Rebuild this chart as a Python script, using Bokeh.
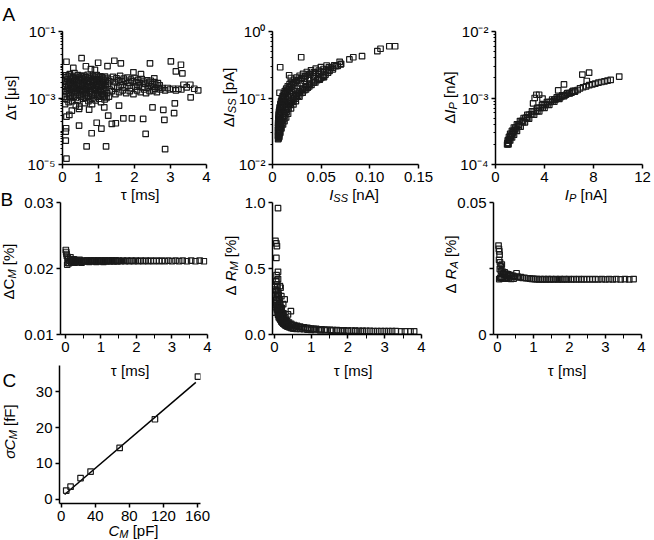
import math
from bokeh.plotting import figure
from bokeh.models import FixedTicker, CustomJSTickFormatter, Label, Range1d
from bokeh.layouts import row, column
from bokeh.embed import file_html
from bokeh.resources import INLINE

# ---------------- data ----------------
# Panel A1: delta tau [us] vs tau [ms]
a1_band_tau = [0.05,0.06,0.04, 0.08,0.09,0.07, 0.10,0.11,0.12, 0.13,0.14,0.12, 0.15,0.16,0.17, 0.18,0.19,0.17,
               0.20,0.21,0.22, 0.23,0.24,0.22, 0.25,0.26,0.27, 0.28,0.29,0.27, 0.30,0.31,0.32, 0.33,0.34,0.32,
               0.35,0.36,0.37, 0.38,0.39,0.37, 0.40,0.41,0.42, 0.43,0.44,0.42, 0.45,0.46,0.47, 0.48,0.49,0.47,
               0.50,0.51,0.52, 0.53,0.54,0.52, 0.55,0.56,0.57, 0.58,0.59,0.57, 0.60,0.61,0.62, 0.63,0.64,0.62,
               0.65,0.66,0.67, 0.68,0.69,0.67, 0.70,0.71,0.72, 0.73,0.74,0.72, 0.75,0.76,0.77, 0.78,0.79,0.77,
               0.80,0.81,0.82, 0.83,0.84,0.82, 0.85,0.86,0.87, 0.88,0.89,0.87, 0.90,0.91,0.92, 0.93,0.94,0.92,
               0.95,0.96,0.97, 0.98,0.99,0.97, 1.00,1.01,1.02, 1.03,1.04,1.02, 1.05,1.06,1.07, 1.08,1.09,1.07,
               1.10,1.11,1.12, 1.13,1.14,1.12, 1.15,1.16,1.17, 1.18,1.19,1.17, 1.20,1.21,1.22, 1.25,1.26,1.24,
               1.30,1.31,1.29,
               1.35,1.37, 1.40,1.42, 1.45,1.47, 1.50,1.52, 1.55,1.57, 1.60,1.62, 1.65,1.67, 1.70,1.72, 1.75,1.77,
               1.80,1.82, 1.85,1.87, 1.90,1.92, 1.95,1.97, 2.00,2.02, 2.05,2.07, 2.10,2.12, 2.15,2.17, 2.20,2.22,
               2.25,2.27, 2.30,2.32, 2.35,2.37, 2.40,2.42, 2.45,2.47, 2.50,2.52, 2.55,2.57, 2.60,2.62, 2.65,2.67,
               2.70,2.72,
               2.78, 2.85, 2.92, 2.98, 3.07, 3.15, 3.22, 3.30, 3.36, 3.45, 3.55, 3.66, 3.77]
a1_band_dtau = [4.2e-3,2.2e-3,1.1e-3, 3.1e-3,1.6e-3,6.5e-4, 4.8e-3,2.6e-3,1.3e-3, 3.6e-3,1.9e-3,9.0e-4,
                4.4e-3,2.3e-3,1.4e-3, 3.0e-3,1.7e-3,7.5e-4, 5.2e-3,2.8e-3,1.2e-3, 3.8e-3,2.0e-3,1.0e-3,
                4.6e-3,2.4e-3,1.5e-3, 3.3e-3,1.8e-3,8.0e-4, 4.0e-3,2.6e-3,1.1e-3, 5.6e-3,2.1e-3,1.3e-3,
                3.5e-3,1.6e-3,6.0e-4, 4.3e-3,2.5e-3,1.0e-3, 3.2e-3,1.9e-3,1.4e-3, 4.9e-3,2.2e-3,8.5e-4,
                3.7e-3,2.7e-3,1.2e-3, 4.1e-3,1.7e-3,5.5e-4, 3.4e-3,2.3e-3,1.1e-3, 4.5e-3,2.0e-3,1.5e-3,
                3.9e-3,2.6e-3,9.5e-4, 3.0e-3,1.8e-3,1.3e-3, 4.7e-3,2.4e-3,7.0e-4, 3.6e-3,2.1e-3,1.2e-3,
                4.2e-3,1.6e-3,1.0e-3, 3.3e-3,2.8e-3,1.4e-3, 5.0e-3,2.2e-3,8.0e-4, 3.8e-3,1.9e-3,1.1e-3,
                4.4e-3,2.5e-3,1.5e-3, 3.1e-3,1.7e-3,9.0e-4, 4.0e-3,2.3e-3,1.3e-3, 3.5e-3,2.0e-3,6.5e-4,
                4.6e-3,2.7e-3,1.2e-3, 3.2e-3,1.8e-3,1.0e-3, 4.3e-3,2.4e-3,1.4e-3, 3.7e-3,2.1e-3,8.5e-4,
                4.9e-3,2.6e-3,1.1e-3, 3.4e-3,1.6e-3,1.3e-3, 4.1e-3,2.2e-3,9.5e-4, 3.6e-3,2.5e-3,1.2e-3,
                4.5e-3,1.9e-3,1.5e-3, 3.0e-3,2.3e-3,7.5e-4, 4.2e-3,2.0e-3,1.1e-3, 3.8e-3,2.6e-3,1.3e-3,
                3.3e-3,1.7e-3,9.0e-4, 4.4e-3,2.4e-3,1.2e-3, 3.5e-3,2.1e-3,1.0e-3, 4.0e-3,2.7e-3,1.4e-3,
                3.2e-3,1.8e-3,1.1e-3,
                3.6e-3,1.6e-3, 4.3e-3,2.2e-3, 3.0e-3,1.3e-3, 3.9e-3,2.0e-3, 3.4e-3,1.5e-3, 4.6e-3,2.4e-3,
                3.1e-3,1.7e-3, 3.8e-3,2.1e-3, 3.3e-3,1.4e-3, 4.1e-3,2.3e-3, 2.9e-3,1.6e-3, 3.6e-3,2.0e-3,
                3.2e-3,1.3e-3, 4.0e-3,2.2e-3, 3.0e-3,1.7e-3, 3.5e-3,2.4e-3, 2.8e-3,1.5e-3, 3.7e-3,2.1e-3,
                3.1e-3,1.8e-3, 2.7e-3,1.4e-3, 3.4e-3,2.0e-3, 2.9e-3,1.6e-3, 3.3e-3,2.2e-3, 2.6e-3,1.7e-3,
                3.0e-3,1.9e-3, 2.5e-3,1.5e-3, 2.8e-3,2.0e-3, 2.4e-3,1.8e-3,
                2.0e-3, 1.7e-3, 2.0e-3, 1.8e-3, 1.9e-3, 1.7e-3, 1.9e-3, 1.8e-3, 2.5e-3, 2.1e-3, 2.5e-3, 1.9e-3, 1.7e-3]
a1_out_tau = [0.11,0.53,0.79,0.99,1.25,1.44,1.62,2.43,3.01,3.15,3.29,3.33,2.18,2.55,1.97,0.30,0.65,0.90,
              0.11,0.09,0.09,0.10,0.11,0.19,0.46,0.67,0.81,0.95,1.08,1.21,1.27,1.37,1.48,1.69,1.93,2.24,
              2.31,2.85,2.83,2.50,2.80,3.10,3.12,3.56,1.57,0.74,0.46,0.26,1.16]
a1_out_dtau = [1.23e-2,1.58e-2,7.4e-3,1.15e-2,9.1e-3,1.32e-2,1.1e-2,1.1e-2,1.26e-2,6.3e-3,1.0e-2,5.5e-3,
               5.2e-3,3.9e-3,5.9e-3,8.0e-3,9.0e-3,7.0e-3,
               1.5e-5,5.2e-5,9.8e-5,1.23e-4,2.75e-4,3.1e-4,1.48e-4,3.5e-5,8.7e-5,1.8e-4,1.2e-4,3.5e-5,
               2.95e-4,1.66e-4,1.74e-4,2.45e-4,2.45e-4,2.34e-4,8.3e-5,2.9e-5,2.2e-4,5.2e-4,4.4e-4,
               3.5e-4,6.9e-4,1.05e-3,5.9e-4,4.5e-4,4.7e-4,4.2e-4,5.2e-4]

# Panel A2: delta I_SS [pA] vs I_SS [nA]
a2_iss = [.0058,.0058,.0058,.0058,.0060,.0064,.0068,.0074,.0082,.0090,.0098,.0108,.0120,.0135,.0154,.0175,
          .0198,.0220,.0250,.0300,.0340,.0390,.0440,.0497,.0550,.0600,.0650,.0700,
          .0060,.0061,.0062,.0064,.0067,.0071,.0076,.0083,.0091,.0100,.0110,.0122,.0136,.0152,.0170,.0190,
          .0212,.0236,.0265,.0298,.0335,.0378,.0425,.0475,.0525,.0580,.0635,
          .0056,.0057,.0059,.0061,.0063,.0066,.0070,.0075,.0081,.0088,.0096,.0105,.0115,.0127,.0141,.0157,
          .0176,.0197,.0221,.0248,.0279,.0314,.0353,.0396,.0444,.0497,.0556,
          .0062,.0064,.0067,.0071,.0076,.0082,.0090,.0100,.0112,.0125,.0140,.0158,.0178,.0200,.0225,.0255,
          .0290,.0330,.0375,.0420,.0470,.0520,.0570,.0620,.0670,
          .0064,.0069,.0075,.0083,.0093,.0105,.0119,.0135,.0154,.0175,.0198,.0223,.0250,.0280,.0312,.0347,
          .0385,.0428,.0475,.0525,
          .0066,.0072,.0080,.0090,.0102,.0116,.0132,.0150,.0170,.0192,.0216,.0243,.0272,.0305,.0340,.0380,
          .0425,.0470,.0520,.0570,.0620,
          .0068,.0076,.0086,.0099,.0113,.0128,.0145,.0165,.0188,.0212,.0238,.0265,.0295,.0328,.0362,.0400,
          .0440,.0485,.0530,
          .0069,.0080,.0092,.0108,.0123,.0140,.0160,.0190,.0215,.0240,.0277,.0310,.0345,.0377,.0420,.0460,
          .0500,.0545,.0586,
          .069,.0705,.079,.083,.092,.1077,.111,.120,.126,
          .0079,.0295,.0171,.0188,.0072,.0324,.0113,.0096,.0069]
a2_diss = [.024,.030,.036,.042,.048,.055,.062,.070,.078,.086,.094,.102,.111,.121,.132,.145,.158,.170,.182,
           .200,.212,.225,.238,.250,.267,.285,.302,.320,
           .026,.031,.037,.043,.049,.056,.063,.071,.079,.087,.096,.105,.115,.125,.136,.148,.160,.172,.185,
           .199,.213,.228,.243,.258,.273,.292,.310,
           .027,.033,.039,.045,.051,.058,.065,.073,.081,.089,.098,.107,.117,.127,.138,.150,.162,.175,.188,
           .202,.216,.231,.246,.261,.276,.292,.308,
           .025,.030,.036,.042,.048,.055,.062,.070,.079,.088,.097,.107,.118,.129,.140,.152,.166,.181,.197,
           .212,.228,.245,.263,.285,.305,
           .025,.029,.034,.039,.045,.051,.058,.065,.073,.082,.091,.100,.110,.121,.133,.145,.158,.172,.188,.205,
           .028,.033,.039,.045,.052,.059,.067,.075,.084,.094,.104,.115,.126,.138,.151,.165,.180,.196,.215,
           .240,.270,
           .027,.031,.036,.042,.048,.055,.062,.070,.079,.088,.098,.108,.119,.131,.143,.157,.171,.188,.208,
           .026,.030,.035,.040,.045,.051,.058,.070,.080,.090,.105,.120,.135,.149,.170,.186,.200,.225,.255,
           .35,.325,.38,.41,.425,.506,.55,.60,.60,
           .29,.41,.22,.20,.12,.195,.083,.075,.063]

# Panel A3: delta I_P [nA] vs I_P [nA]
a3_ip = [0.95,1.0,1.1,1.2,1.34,1.5,1.75,2.0,2.3,2.6,2.98,3.4,3.8,4.2,4.63,5.0,5.45,5.85,6.27,6.7,
         1.05,1.12,1.22,1.33,1.47,1.63,1.88,2.13,2.43,2.73,3.12,3.54,3.95,4.36,4.8,5.18,5.64,6.05,6.48,
         1.0,1.1,1.25,1.42,1.62,1.9,2.2,2.55,2.9,3.3,3.7,4.1,4.5,4.9,5.3,5.75,6.2,
         0.98,1.08,1.22,1.37,1.6,1.9,2.25,2.6,3.0,3.42,3.85,4.24,4.65,5.06,5.45,5.88,6.35,
         1.05,1.2,1.35,1.51,1.75,2.05,2.4,2.74,3.15,3.57,4.0,4.39,4.8,5.21,5.6,6.03,6.5,
         6.9,7.15,7.4,7.65,7.9,8.15,8.4,8.65,8.9,9.15,9.4,
         10.1,7.09,7.64,7.45,5.59,5.12,3.34,3.56,3.2,3.07,3.84]
a3_dip = [2.0e-4,2.3e-4,2.6e-4,2.9e-4,3.2e-4,3.6e-4,4.0e-4,4.5e-4,5.0e-4,5.6e-4,6.3e-4,7.1e-4,7.9e-4,8.7e-4,
          9.5e-4,1.02e-3,1.1e-3,1.17e-3,1.25e-3,1.32e-3,
          2.05e-4,2.3e-4,2.6e-4,2.9e-4,3.2e-4,3.6e-4,4.0e-4,4.5e-4,5.0e-4,5.6e-4,6.3e-4,7.1e-4,7.9e-4,8.7e-4,
          9.5e-4,1.02e-3,1.1e-3,1.17e-3,1.25e-3,
          2.1e-4,2.35e-4,2.7e-4,3.05e-4,3.45e-4,3.95e-4,4.5e-4,5.1e-4,5.7e-4,6.4e-4,7.1e-4,7.9e-4,8.7e-4,
          9.5e-4,1.03e-3,1.12e-3,1.2e-3,
          2.1e-4,2.35e-4,2.6e-4,2.85e-4,3.25e-4,3.75e-4,4.35e-4,4.95e-4,5.65e-4,6.35e-4,7.15e-4,7.95e-4,
          8.85e-4,9.75e-4,1.07e-3,1.18e-3,1.28e-3,
          2.0e-4,2.3e-4,2.55e-4,2.8e-4,3.2e-4,3.7e-4,4.3e-4,4.9e-4,5.6e-4,6.3e-4,7.1e-4,7.9e-4,8.8e-4,9.7e-4,
          1.07e-3,1.18e-3,1.28e-3,
          1.40e-3,1.45e-3,1.50e-3,1.56e-3,1.60e-3,1.65e-3,1.70e-3,1.74e-3,1.78e-3,1.83e-3,1.87e-3,
          2.1e-3,2.25e-3,2.4e-3,1.8e-3,1.6e-3,1.3e-3,1.12e-3,1.12e-3,1.0e-3,8.3e-4,9.8e-4]

# Panel B1: delta C_M [%] vs tau [ms]
b1_tau = [0.01,0.02,0.03,0.04,0.05,0.06,0.07,0.08,0.10,0.12,0.14,0.16,0.18,0.20,0.23,0.26,0.30,0.35,0.40,0.45,0.50,
          0.22,0.25,0.28,0.32,0.37,0.42,0.47,0.52,0.57,0.62,0.67,0.72,0.77,0.82,0.87,0.92,0.97,1.02,1.07,1.12,
          1.17,1.22,1.27,1.32,1.37,1.42,1.47,
          0.55,0.60,0.65,0.70,0.75,0.80,0.85,0.90,0.95,1.00,1.05,1.10,1.15,1.20,1.25,1.30,1.35,1.40,1.45,1.50,
          1.56,1.62,1.68,1.74,1.80,1.86,1.92,1.98,2.05,2.12,2.19,2.26,2.33,2.40,2.48,2.56,2.64,2.72,2.80,2.90,
          3.00,3.10,3.20,3.30,3.42,3.54,3.66,3.78,3.90]
b1_dcm = [0.0228,0.0225,0.0222,0.0219,0.0206,0.0216,0.0209,0.0214,0.0208,0.0212,0.0217,0.0209,0.0213,0.0210,
          0.0214,0.0209,0.0212,0.0210,0.0213,0.0209,0.0211,
          0.0211,0.0213,0.0210,0.0212,0.0210,0.0212,0.0210,0.0212,0.0211,0.0212,0.0210,0.0212,0.0211,0.0212,
          0.0210,0.0212,0.0211,0.0212,0.0210,0.0212,0.0211,0.0212,0.0211,0.0212,0.0211,0.0212,0.0211,
          0.0211,0.0212,0.0211,0.0212,0.0211,0.0212,0.0211,0.0212,0.0211,0.0212,0.0211,0.0212,0.0211,0.0212,
          0.0211,0.0212,0.0211,0.0212,0.0211,0.0212,0.0211,0.0212,0.0211,0.0212,0.0211,0.0212,0.0211,0.0212,
          0.0211,0.0212,0.0211,0.0212,0.0211,0.0212,0.0211,0.0212,0.0211,0.0212,0.0211,0.0212,0.0211,0.0212,
          0.0211,0.0212,0.0211,0.0212,0.0211,0.0212,0.0211]

# Panel B2: delta R_M [%] vs tau [ms]
b2_tau = [0.10,0.03,0.055,0.07,0.055,0.10,0.055,0.10,0.01,0.15,0.03,0.17,0.08,0.19,0.03,0.45,0.24,0.37,0.15,0.28,
          0.05,0.06,0.07,0.08,0.09,0.10,0.11,0.12,0.13,0.14,0.15,0.16,0.17,0.18,0.19,0.20,0.21,0.22,0.23,0.24,
          0.25,0.27,0.29,0.31,0.33,0.35,0.37,0.40,0.43,0.46,0.50,0.54,0.58,0.62,0.66,0.70,0.75,0.80,0.85,0.90,
          0.95,1.00,1.07,1.14,1.20,1.28,1.36,1.44,1.52,1.60,1.70,1.80,1.90,2.00,2.10,2.20,2.30,2.40,2.50,2.60,
          2.70,2.80,2.90,3.00,3.10,3.20,3.30,3.45,3.55,3.70,3.80,
          0.06,0.07,0.09,0.10,0.12,0.13,0.15,0.17,0.19,0.21,0.24,0.27,0.30,0.34,0.38,0.44,0.50,0.60,0.70,0.80,
          0.90,1.00,1.10,1.25,1.40,1.55,1.70,1.85,2.00,2.20,2.40,
          0.04,0.05,0.06,0.07,0.08,0.09,0.10,0.11,0.12,0.13,0.14,0.15,0.16,0.17,0.18,0.20,0.22,0.24,0.26,0.28,
          0.30,0.33,0.36,0.40,0.45,0.50,0.55,0.60,
          0.06,0.08,0.10,0.12,0.14,0.16,0.20,0.25,0.30]
b2_drm = [0.957,0.71,0.69,0.67,0.58,0.475,0.405,0.42,0.367,0.367,0.34,0.354,0.30,0.29,0.165,0.177,0.23,0.152,0.20,0.266,
          0.40,0.33,0.28,0.36,0.25,0.31,0.22,0.27,0.20,0.24,0.18,0.21,0.16,0.19,0.14,0.17,0.13,0.15,0.12,0.14,
          0.11,0.125,0.10,0.11,0.09,0.10,0.083,0.09,0.075,0.08,0.068,0.072,0.062,0.065,0.057,0.06,0.053,0.055,0.049,0.05,
          0.046,0.045,0.042,0.042,0.039,0.039,0.037,0.036,0.035,0.034,0.033,0.032,0.031,0.030,0.030,0.029,0.028,0.028,0.027,0.027,
          0.026,0.026,0.026,0.025,0.025,0.025,0.025,0.024,0.024,0.024,0.024,
          0.22,0.19,0.17,0.15,0.13,0.16,0.12,0.11,0.10,0.095,0.085,0.08,0.07,0.065,0.06,0.055,0.05,0.045,0.042,0.04,
          0.037,0.035,0.034,0.032,0.031,0.030,0.029,0.028,0.027,0.026,0.026,
          0.30,0.26,0.24,0.21,0.20,0.19,0.18,0.16,0.15,0.14,0.14,0.13,0.12,0.12,0.11,0.10,0.09,0.085,0.08,0.075,
          0.07,0.065,0.06,0.055,0.05,0.047,0.044,0.042,
          0.45,0.38,0.33,0.30,0.26,0.23,0.20,0.16,0.13]

# Panel B3: delta R_A [%] vs tau [ms]
b3_tau = [0.03,0.04,0.05,0.06,0.045,0.07,0.09,0.065,0.12,0.10,0.14,0.16,0.18,0.20,0.22,0.25,0.28,0.30,0.33,0.36,
          0.40,0.44,0.48,0.53,0.56,0.60,0.65,0.70,0.75,0.80,0.85,0.90,0.95,1.00,
          0.05,0.08,0.10,0.12,0.15,0.20,0.26,0.32,0.38,0.45,
          1.05,1.10,1.15,1.20,1.25,1.30,1.35,1.40,1.45,1.50,1.56,1.62,1.68,1.74,1.80,1.86,1.92,1.98,2.05,2.12,
          2.19,2.26,2.33,2.40,2.48,2.56,2.64,2.72,2.80,2.90,3.00,3.10,3.20,3.30,3.42,3.54,3.66,3.78]
b3_dra = [0.0337,0.0324,0.0315,0.0302,0.0283,0.0273,0.0258,0.0248,0.0265,0.0240,0.0238,0.0232,0.0228,0.0235,
          0.0226,0.0230,0.0224,0.0228,0.0222,0.0225,0.0220,0.0222,0.0218,0.0232,0.0219,0.0216,0.0217,0.0214,
          0.0215,0.0213,0.0213,0.0212,0.0211,0.0211,
          0.0210,0.0215,0.0213,0.0218,0.0212,0.0214,0.0212,0.0213,0.0211,0.0212,
          0.0210,0.0210,0.0209,0.0210,0.0209,0.0210,0.0209,0.0210,0.0209,0.0210,0.0209,0.0210,0.0209,0.0210,
          0.0209,0.0210,0.0209,0.0210,0.0209,0.0210,0.0209,0.0210,0.0209,0.0210,0.0209,0.0210,0.0209,0.0210,
          0.0209,0.0210,0.0209,0.0210,0.0209,0.0210,0.0209,0.0210,0.0209,0.0210]

# Panel C: sigma C_M [fF] vs C_M [pF], with linear fit
c_cm = [5.9, 11.0, 22.7, 34.5, 68.6, 110.0, 160.5]
c_sigma = [2.4, 3.5, 5.9, 7.7, 14.3, 22.3, 34.2]
c_fit_cm = [4.0, 158.0]
c_fit_sigma = [1.3, 32.6]

# ---------------- styling helpers ----------------
FONT = "Liberation Sans"
INK = "#1a1a1a"
PAGE_W, PAGE_H = 652, 540
ROT_SHIFT = -8      # rotated labels render right of the requested baseline
BASE_LIFT = 3       # horizontal labels render slightly below the requested baseline
TICK_FS = "15px"

W_EM = {" ": 0.278, "[": 0.278, "]": 0.278, "%": 0.889, "m": 0.833, "s": 0.5, "p": 0.556, "A": 0.667,
        "n": 0.556, "f": 0.278, "F": 0.611, "I": 0.278, "S": 0.667, "P": 0.667, "M": 0.833, "C": 0.722,
        "R": 0.722, "\u0394": 0.668, "\u03c4": 0.45, "\u03c3": 0.57, "\u03bc": 0.576}


def text_w(s, size):
    return sum(W_EM.get(c, 0.556) for c in s) * size


def make_fig(width, height, left, right, top, bottom, x_range, y_range, x_log=False, y_log=False):
    p = figure(width=width, height=height, x_range=x_range, y_range=y_range,
               x_axis_type="log" if x_log else "linear",
               y_axis_type="log" if y_log else "linear",
               output_backend="svg", toolbar_location=None,
               min_border_left=left, min_border_right=right,
               min_border_top=top, min_border_bottom=bottom)
    p.outline_line_color = None
    p.xgrid.visible = False
    p.ygrid.visible = False
    p.background_fill_alpha = 0
    p.border_fill_alpha = 0
    for ax in [p.xaxis[0], p.yaxis[0]]:
        ax.axis_line_width = 1.5
        ax.axis_line_color = "black"
        ax.major_tick_line_width = 1.5
        ax.major_tick_line_color = "black"
        ax.major_tick_in = 0
        ax.major_tick_out = 4
        ax.minor_tick_in = 0
        ax.minor_tick_out = 0
        ax.minor_tick_line_width = 1
        ax.minor_tick_line_color = "black"
        ax.major_label_text_font = FONT
        ax.major_label_text_font_size = TICK_FS
        ax.major_label_text_color = "black"
        ax.major_label_standoff = 3
    return p


# transparent overlay holding all axis titles and panel letters (page pixel coordinates)
ov = figure(width=PAGE_W, height=PAGE_H, x_range=Range1d(0, PAGE_W), y_range=Range1d(0, PAGE_H),
            output_backend="svg", toolbar_location=None, x_axis_location=None, y_axis_location=None,
            min_border=0, margin=(-PAGE_H, 0, 0, 0))
ov.outline_line_color = None
ov.background_fill_alpha = 0
ov.border_fill_alpha = 0
for g in ov.grid:
    g.visible = False


def rich(segs, px, py, rotated=False, size=15, sub_size=11, sub_drop=3.5):
    """px, py: page pixels; horizontal -> (centre x, baseline y); rotated -> (baseline x, centre y)."""
    widths = [text_w(t, sub_size if sub else size) for t, it, sub in segs]
    pos = -sum(widths) / 2.0
    for (t, it, sub), w in zip(segs, widths):
        fs = sub_size if sub else size
        lead = len(t) - len(t.lstrip(" "))
        txt = t.strip(" ")
        off = pos + text_w(" " * lead, fs)
        if txt:
            if rotated:
                x = px + ROT_SHIFT + (sub_drop if sub else 0)
                y = (PAGE_H - py) + off
                ang = math.pi / 2
            else:
                x = px + off
                y = (PAGE_H - py) + BASE_LIFT - (sub_drop if sub else 0)
                ang = 0
            ov.add_layout(Label(x=x, y=y, text=txt, angle=ang,
                                text_font=FONT, text_font_size=f"{fs}px",
                                text_font_style="italic" if it else "normal",
                                text_align="left", text_baseline="alphabetic", text_color="black"))
        pos += w


def letter(t, px, py):
    ov.add_layout(Label(x=px, y=PAGE_H - py, text=t, text_font=FONT, text_font_size="19px",
                        text_align="left", text_baseline="alphabetic", text_color="black"))


def pts(p, x, y):
    p.scatter(x, y, marker="square", size=5.5, fill_color=None, line_color=INK, line_width=1.2)


SUP = ('const m = {"-":"\\u207b","0":"\\u2070","1":"\\u00b9","2":"\\u00b2","3":"\\u00b3",'
       '"4":"\\u2074","5":"\\u2075"};'
       'const e = Math.round(Math.log10(tick));'
       'return "10" + String(e).split("").map(c => m[c]).join("");')


def log_ticks(lo, hi):
    minors = []
    for e in range(lo, hi):
        for k in range(1, 10):
            minors.append(k * 10.0 ** e)
    minors.append(10.0 ** hi)
    return minors


tau_minor = [0.5, 1.5, 2.5, 3.5]

# ---------------- row 1 ----------------
pA1 = make_fig(220, 202, 62, 14, 31, 38, Range1d(0, 4), Range1d(1e-5, 1e-1), y_log=True)
pA1.xaxis.ticker = FixedTicker(ticks=[0, 1, 2, 3, 4])
pA1.yaxis.ticker = FixedTicker(ticks=[1e-5, 1e-3, 1e-1], minor_ticks=log_ticks(-5, -1))
pA1.yaxis.formatter = CustomJSTickFormatter(code=SUP)
pA1.yaxis.minor_tick_out = 2
pts(pA1, a1_band_tau, a1_band_dtau)
pts(pA1, a1_out_tau, a1_out_dtau)

pA2 = make_fig(220, 202, 52, 22, 31, 38, Range1d(0, 0.15), Range1d(1e-2, 1), y_log=True)
pA2.xaxis.ticker = FixedTicker(ticks=[0, 0.05, 0.10, 0.15])
pA2.xaxis.formatter = CustomJSTickFormatter(code='return tick == 0 ? "0" : tick.toFixed(2);')
pA2.yaxis.ticker = FixedTicker(ticks=[1e-2, 1e-1, 1], minor_ticks=log_ticks(-2, 0))
pA2.yaxis.formatter = CustomJSTickFormatter(code=SUP)
pA2.yaxis.minor_tick_out = 2
pts(pA2, a2_iss, a2_diss)

pA3 = make_fig(212, 202, 55, 10, 31, 38, Range1d(0, 12), Range1d(1e-4, 1e-2), y_log=True)
pA3.xaxis.ticker = FixedTicker(ticks=[0, 4, 8, 12])
pA3.yaxis.ticker = FixedTicker(ticks=[1e-4, 1e-3, 1e-2], minor_ticks=log_ticks(-4, -2))
pA3.yaxis.formatter = CustomJSTickFormatter(code=SUP)
pA3.yaxis.minor_tick_out = 2
pts(pA3, a3_ip, a3_dip)

# ---------------- row 2 ----------------
pB1 = make_fig(220, 192, 60, 13, 14, 46, Range1d(-0.14, 4), Range1d(0.01, 0.03))
pB1.xaxis.ticker = FixedTicker(ticks=[0, 1, 2, 3, 4], minor_ticks=tau_minor)
pB1.xaxis.minor_tick_out = 4
pB1.yaxis.ticker = FixedTicker(ticks=[0.01, 0.02, 0.03])
pB1.yaxis.formatter = CustomJSTickFormatter(code='return tick.toFixed(2);')
pts(pB1, b1_tau, b1_dcm)

pB2 = make_fig(220, 192, 52, 19, 14, 46, Range1d(-0.05, 4), Range1d(0, 1.0))
pB2.xaxis.ticker = FixedTicker(ticks=[0, 1, 2, 3, 4], minor_ticks=tau_minor)
pB2.xaxis.minor_tick_out = 4
pB2.yaxis.ticker = FixedTicker(ticks=[0, 0.5, 1.0])
pB2.yaxis.formatter = CustomJSTickFormatter(code='return tick.toFixed(1);')
pts(pB2, b2_tau, b2_drm)

pB3 = make_fig(212, 192, 53, 11, 14, 46, Range1d(-0.11, 4), Range1d(0, 0.05))
pB3.xaxis.ticker = FixedTicker(ticks=[0, 1, 2, 3, 4], minor_ticks=tau_minor)
pB3.xaxis.minor_tick_out = 4
pB3.yaxis.ticker = FixedTicker(ticks=[0, 0.025, 0.05])
pB3.yaxis.formatter = CustomJSTickFormatter(
    code='if (tick == 0) return "0"; if (Math.abs(tick - 0.05) < 1e-9) return "0.05"; return "";')
pts(pB3, b3_tau, b3_dra)

# ---------------- row 3 ----------------
pC = make_fig(220, 178, 59, 20, 3, 37, Range1d(-2, 163.5), Range1d(-1.2, 37.3))
pC.xaxis.ticker = FixedTicker(ticks=[0, 40, 80, 120, 160])
pC.yaxis.ticker = FixedTicker(ticks=[0, 10, 20, 30])
pC.line(c_fit_cm, c_fit_sigma, line_color="black", line_width=1.5)
pts(pC, c_cm, c_sigma)

# ---------------- axis titles and panel letters ----------------
rich([("\u0394\u03c4 [\u03bcs]", False, False)], 18, 97, rotated=True)
rich([("\u03c4 [ms]", False, False)], 140, 197)
rich([("\u0394", False, False), ("I", True, False), ("SS", True, True), (" [pA]", False, False)], 236, 97, rotated=True)
rich([("I", True, False), ("SS", True, True), (" [nA]", False, False)], 353.5, 197)
rich([("\u0394", False, False), ("I", True, False), ("P", True, True), (" [nA]", False, False)], 457, 97, rotated=True)
rich([("I", True, False), ("P", True, True), (" [nA]", False, False)], 585.5, 197)

rich([("\u0394C", False, False), ("M", True, True), (" [%]", False, False)], 16, 271, rotated=True)
rich([("\u03c4 [ms]", False, False)], 130, 373)
rich([("\u0394 ", False, False), ("R", True, False), ("M", True, True), (" [%]", False, False)], 238, 265, rotated=True)
rich([("\u03c4 [ms]", False, False)], 353, 373)
rich([("\u0394 ", False, False), ("R", True, False), ("A", True, True), (" [%]", False, False)], 458, 264, rotated=True)
rich([("\u03c4 [ms]", False, False)], 567, 373)

rich([("\u03c3", True, False), ("C", True, False), ("M", True, True), (" [fF]", False, False)], 17, 431, rotated=True)
rich([("C", True, False), ("M", True, True), (" [pF]", False, False)], 133, 533)

letter("A", 2, 14)
letter("B", 0, 199)
letter("C", 2, 380)

r1 = row(pA1, pA2, pA3)
r2 = row(pB1, pB2, pB3, margin=(-14, 0, 0, 0))
r3 = row(pC, margin=(-18, 0, 0, 0))
layout = column(r1, r2, r3, ov)

open("out.html", "w").write(file_html(layout, INLINE))
